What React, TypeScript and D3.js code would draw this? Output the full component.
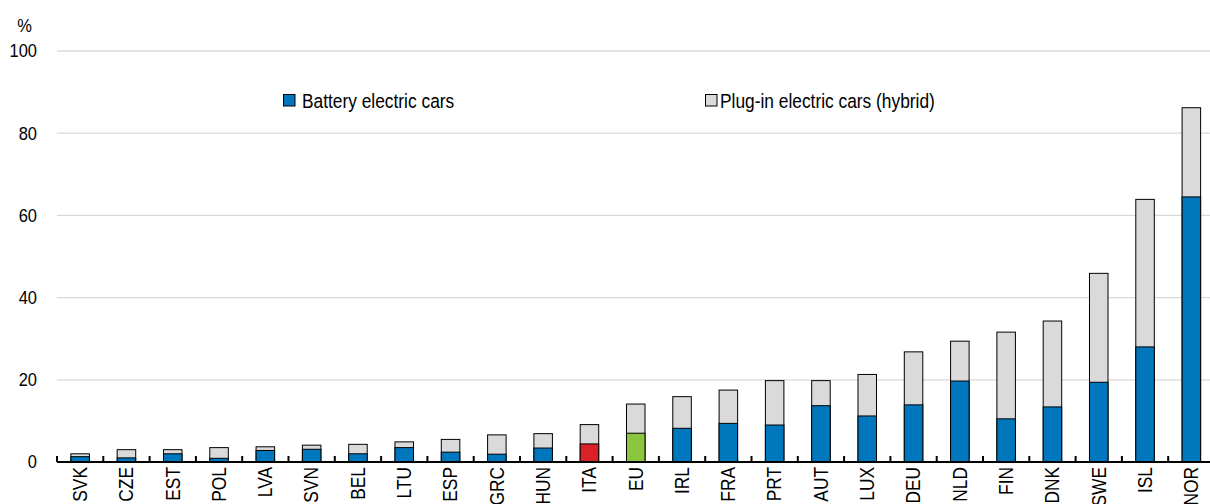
import * as d3 from "d3";

const countries = ["SVK", "CZE", "EST", "POL", "LVA", "SVN", "BEL", "LTU", "ESP", "GRC", "HUN", "ITA", "EU", "IRL", "FRA", "PRT", "AUT", "LUX", "DEU", "NLD", "FIN", "DNK", "SWE", "ISL", "NOR"];
// battery electric share, %
const battery = [1.3, 1.0, 2.0, 0.9, 2.8, 3.1, 2.0, 3.5, 2.4, 1.9, 3.4, 4.4, 7.0, 8.2, 9.4, 9.0, 13.7, 11.2, 13.9, 19.7, 10.5, 13.4, 19.4, 28.0, 64.5];
// total incl. plug-in hybrids, %
const total = [2.0, 3.0, 3.0, 3.5, 3.7, 4.1, 4.3, 4.9, 5.5, 6.6, 6.9, 9.1, 14.1, 15.9, 17.5, 19.8, 19.8, 21.3, 26.8, 29.4, 31.6, 34.3, 45.9, 63.9, 86.2];
const yTicks = [0, 20, 40, 60, 80, 100];

const BLUE = "#0077bd";
const GREY = "#dadada";
const RED = "#da2128";
const GREEN = "#8cc63f";
const FONT = "'Liberation Sans', Arial, sans-serif";
const SQ = 0.89; // the source font is a bit condensed

const W = 1210, H = 504;
const left = 57, right = 1214.5, top = 51, bottom = 462;

export default function App() {
  const x = d3.scaleBand().domain(countries).range([left, right]).paddingInner(0.6).paddingOuter(0.3);
  const y = d3.scaleLinear().domain([0, 100]).range([bottom, top]);
  const step = x.step();

  const baseColor = (c: string) => (c === "ITA" ? RED : c === "EU" ? GREEN : BLUE);

  return (
    <svg width={W} height={H} style={{ position: "absolute", left: 0, top: 0, fontFamily: FONT }}>
      {yTicks.filter(t => t > 0).map(t => (
        <line key={t} x1={left} x2={W} y1={y(t)} y2={y(t)} stroke="#dadada" strokeWidth={1.3} />
      ))}
      {yTicks.map(t => (
        <text key={t} transform={`translate(37,${y(t)}) scale(${SQ},1)`} dy="0.35em" textAnchor="end" fontSize={18.5} fill="#000">{t}</text>
      ))}
      <text transform={`translate(24.5,25.5) scale(${SQ},1)`} dy="0.35em" textAnchor="middle" fontSize={18.5}>%</text>

      {countries.map((c, i) => {
        const bx = x(c) ?? 0;
        return (
          <g key={c}>
            <rect x={bx} y={y(total[i])} width={x.bandwidth()} height={y(0) - y(total[i])} fill={GREY} stroke="#000" strokeWidth={1} />
            <rect x={bx} y={y(battery[i])} width={x.bandwidth()} height={y(0) - y(battery[i])} fill={baseColor(c)} stroke="#000" strokeWidth={1} />
          </g>
        );
      })}

      <line x1={left} x2={W} y1={y(0)} y2={y(0)} stroke="#000" strokeWidth={2} />
      {countries.map(c => {
        const tx = (x(c) ?? 0) - step * 0.3;
        return <line key={c} x1={tx} x2={tx} y1={y(0)} y2={y(0) - 6} stroke="#000" strokeWidth={2} />;
      })}
      {countries.map(c => {
        const cx = (x(c) ?? 0) + x.bandwidth() / 2;
        return (
          <text key={c} transform={`translate(${cx},${y(0) + 5}) rotate(-90) scale(${SQ},1)`} textAnchor="end" dy="0.35em" fontSize={19.5}>{c}</text>
        );
      })}

      <rect x={283.5} y={94.5} width={11.5} height={11.5} fill={BLUE} stroke="#000" strokeWidth={1} />
      <text transform={`translate(302,101) scale(${SQ},1)`} dy="0.35em" fontSize={19.5}>Battery electric cars</text>
      <rect x={705.5} y={94.5} width={11.5} height={11.5} fill={GREY} stroke="#000" strokeWidth={1} />
      <text transform={`translate(720,101) scale(${SQ},1)`} dy="0.35em" fontSize={19.5}>Plug-in electric cars (hybrid)</text>
    </svg>
  );
}
